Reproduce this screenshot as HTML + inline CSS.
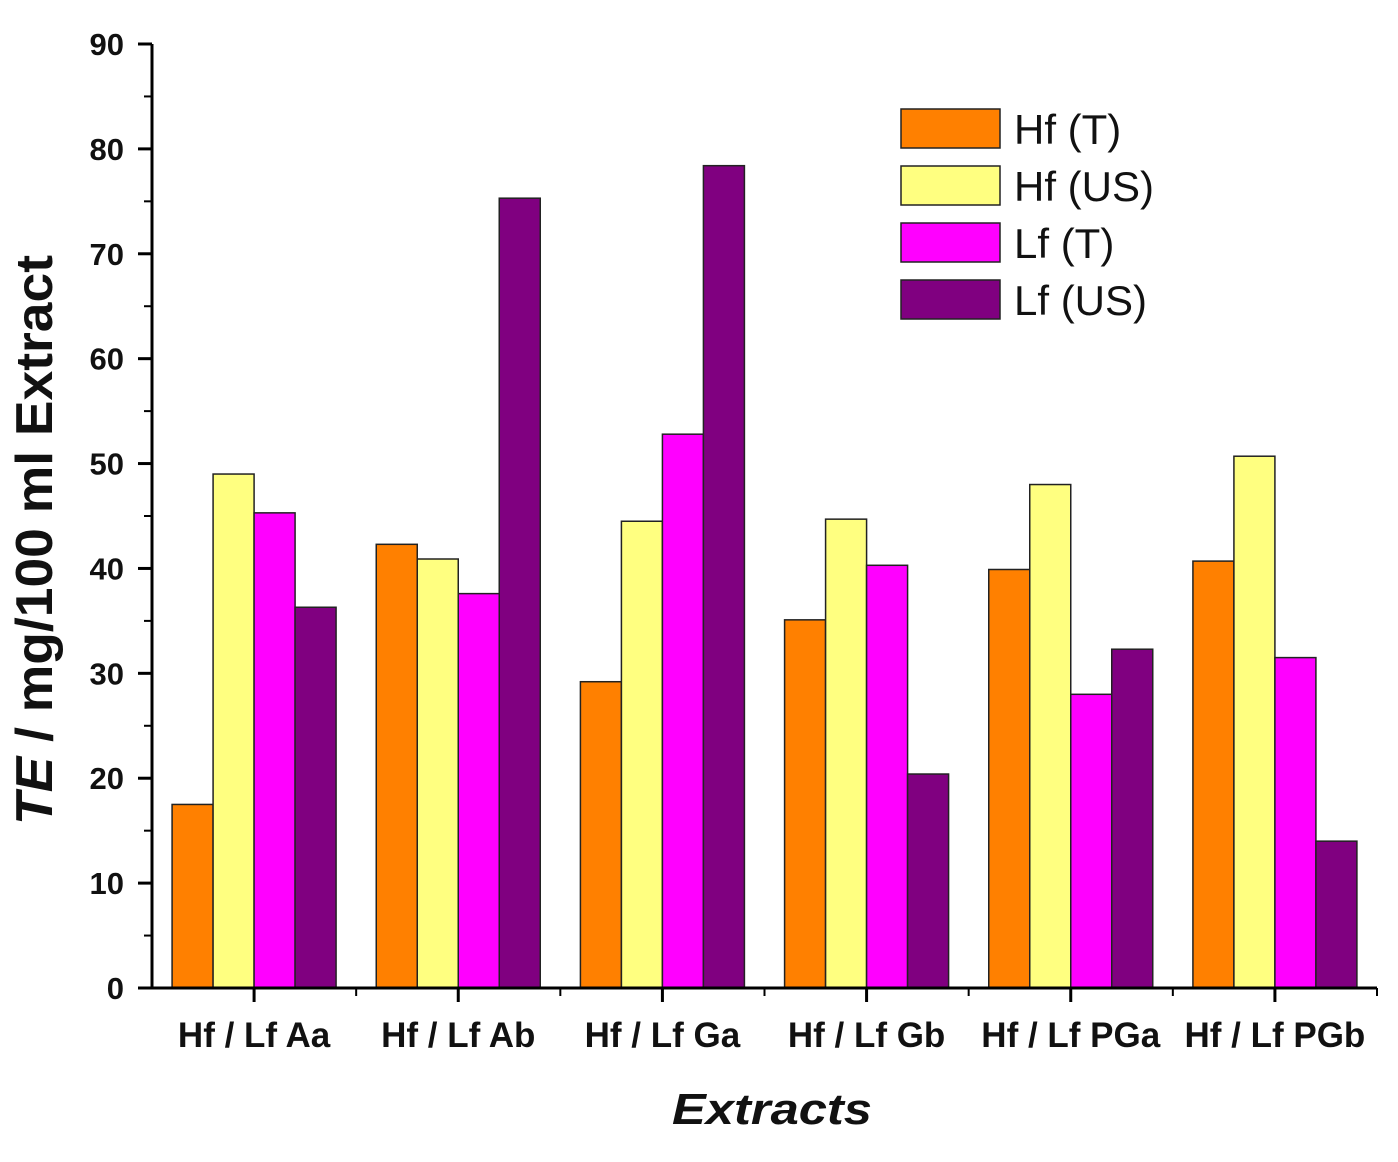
<!DOCTYPE html>
<html><head><meta charset="utf-8"><style>
html,body{margin:0;padding:0;background:#fff;}
svg text{font-family:"Liberation Sans",Arial,sans-serif;}
</style></head><body>
<svg id="chart" width="1398" height="1157" viewBox="0 0 1398 1157" xmlns="http://www.w3.org/2000/svg">
<g id="bars"></g>
<g id="axes"></g>
<text transform="translate(52,540) rotate(-90)" text-anchor="middle" font-size="52" font-weight="bold" fill="#111" textLength="570" lengthAdjust="spacingAndGlyphs"><tspan font-style="italic">TE</tspan> / mg/100 ml Extract</text>
<text x="772" y="1124" text-anchor="middle" font-size="44" font-weight="bold" font-style="italic" fill="#111" textLength="200" lengthAdjust="spacingAndGlyphs">Extracts</text>
<g id="legend"></g>
</svg>
<script>
const categories = ["Hf / Lf Aa","Hf / Lf Ab","Hf / Lf Ga","Hf / Lf Gb","Hf / Lf PGa","Hf / Lf PGb"];
const seriesNames = ["Hf (T)","Hf (US)","Lf (T)","Lf (US)"];
const hfT  = [17.5, 42.3, 29.2, 35.1, 39.9, 40.7];
const hfUS = [49.0, 40.9, 44.5, 44.7, 48.0, 50.7];
const lfT  = [45.3, 37.6, 52.8, 40.3, 28.0, 31.5];
const lfUS = [36.3, 75.3, 78.4, 20.4, 32.3, 14.0];
const yTicks = [0,10,20,30,40,50,60,70,80,90];

const series = [hfT, hfUS, lfT, lfUS];
const colors = ["#FF8000","#FFFF80","#FF00FF","#800080"];
const NS = "http://www.w3.org/2000/svg";
const x0 = 152, x1 = 1377, yBase = 988, yTop = 44, yMax = 90;
const groupW = (x1 - x0) / categories.length;
const barW = 41;
const yScale = v => yBase - v / yMax * (yBase - yTop);
const xCenter = i => x0 + groupW * (i + 0.5);
function mk(tag, attrs, parent){ const e=document.createElementNS(NS,tag); for(const k in attrs) e.setAttribute(k,attrs[k]); parent.appendChild(e); return e; }

const gb = document.getElementById('bars');
categories.forEach((c,i)=>{
  series.forEach((s,j)=>{
    const x = xCenter(i) - 2*barW + j*barW;
    const y = yScale(s[i]);
    const r = mk('rect',{x:x,y:y,width:barW,height:yBase-y,fill:colors[j],stroke:"#222","stroke-width":1.5},gb);
    
    
  });
});

const ga = document.getElementById('axes');
mk('line',{x1:x0,y1:yBase,x2:x0,y2:yTop,stroke:"#000","stroke-width":3},ga);
mk('line',{x1:x0-3,y1:yBase,x2:x1,y2:yBase,stroke:"#000","stroke-width":3},ga);
yTicks.forEach(v=>{
  const y = yScale(v);
  mk('line',{x1:x0-14,y1:y,x2:x0,y2:y,stroke:"#000","stroke-width":3},ga);
  if (v < yMax) { const ym = yScale(v+5); mk('line',{x1:x0-8,y1:ym,x2:x0,y2:ym,stroke:"#000","stroke-width":2},ga); }
  const t = mk('text',{x:x0-28,y:y+11,"text-anchor":"end","font-size":31,"font-weight":"bold",fill:"#111"},ga);
  t.textContent = v;
  
  
});
categories.forEach((c,i)=>{
  const xc = xCenter(i);
  mk('line',{x1:xc,y1:yBase,x2:xc,y2:yBase+14,stroke:"#000","stroke-width":3},ga);
  const xm = x0 + groupW*(i+1);
  mk('line',{x1:xm,y1:yBase,x2:xm,y2:yBase+8,stroke:"#000","stroke-width":2},ga);
  const t = mk('text',{x:xc,y:1047,"text-anchor":"middle","font-size":35,"font-weight":"bold",fill:"#111"},ga);
  t.textContent = c;
  
  
});

const gl = document.getElementById('legend');
seriesNames.forEach((n,j)=>{
  const y = 109 + j*57;
  const r = mk('rect',{x:901,y:y,width:99,height:39,fill:colors[j],stroke:"#222","stroke-width":1.5},gl);
  
  
  const t = mk('text',{x:1014,y:y+35,"font-size":42,fill:"#111"},gl);
  t.textContent = n;
  
  
});
</script>
</body></html>
